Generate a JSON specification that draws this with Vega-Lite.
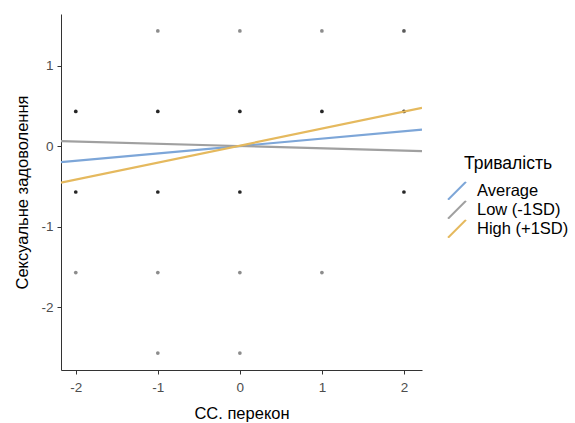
{
  "$schema": "https://vega.github.io/schema/vega-lite/v6.json",
  "width": 361,
  "height": 356,
  "autosize": {"type": "none"},
  "padding": {"left": 61, "top": 14, "right": 153, "bottom": 53},
  "background": "white",
  "config": {
    "font": "Liberation Sans",
    "view": {"stroke": null},
    "axis": {
      "grid": false,
      "domainColor": "#333333",
      "domainWidth": 1,
      "tickColor": "#333333",
      "tickSize": 4,
      "labelColor": "#4D4D4D",
      "labelFontSize": 13.5,
      "titleColor": "#000000",
      "titleFontSize": 16.5,
      "titleFontWeight": "normal"
    }
  },
  "datasets": {
    "points": [
      {"x": -1, "y": 1.43, "n": 1},
      {"x": 0, "y": 1.43, "n": 1},
      {"x": 1, "y": 1.43, "n": 1},
      {"x": 2, "y": 1.43, "n": 2},
      {"x": -2, "y": 0.43, "n": 3},
      {"x": -1, "y": 0.43, "n": 3},
      {"x": 0, "y": 0.43, "n": 3},
      {"x": 1, "y": 0.43, "n": 3},
      {"x": 2, "y": 0.43, "n": 3},
      {"x": -2, "y": -0.57, "n": 3},
      {"x": -1, "y": -0.57, "n": 3},
      {"x": 0, "y": -0.57, "n": 3},
      {"x": 2, "y": -0.57, "n": 3},
      {"x": -2, "y": -1.57, "n": 1},
      {"x": -1, "y": -1.57, "n": 1},
      {"x": 0, "y": -1.57, "n": 1},
      {"x": 1, "y": -1.57, "n": 1},
      {"x": -1, "y": -2.57, "n": 1},
      {"x": 0, "y": -2.57, "n": 1}
    ],
    "lines": [
      {"x": -2.18, "y": -0.2, "group": "Average"},
      {"x": 2.22, "y": 0.205, "group": "Average"},
      {"x": -2.18, "y": 0.062, "group": "Low (-1SD)"},
      {"x": 2.22, "y": -0.062, "group": "Low (-1SD)"},
      {"x": -2.18, "y": -0.455, "group": "High (+1SD)"},
      {"x": 2.22, "y": 0.475, "group": "High (+1SD)"}
    ]
  },
  "layer": [
    {
      "data": {"name": "points"},
      "mark": {"type": "circle", "size": 14, "color": "#000000"},
      "encoding": {
        "x": {"field": "x", "type": "quantitative", "scale": {"domain": [-2.18, 2.22], "nice": false, "zero": false},
              "axis": {"title": "СС. перекон", "values": [-2, -1, 0, 1, 2], "labelExpr": "datum.value + ''", "titlePadding": 12, "labelPadding": 6}},
        "y": {"field": "y", "type": "quantitative", "scale": {"domain": [-2.78, 1.64], "nice": false, "zero": false},
              "axis": {"title": "Сексуальне задоволення", "values": [-2, -1, 0, 1], "labelExpr": "datum.value + ''", "titlePadding": 10, "labelPadding": 4}},
        "opacity": {"field": "n", "type": "quantitative", "scale": {"domain": [1, 3], "range": [0.45, 0.85]}, "legend": null}
      }
    },
    {
      "data": {"name": "lines"},
      "mark": {"type": "line", "strokeWidth": 2.2, "clip": true},
      "encoding": {
        "x": {"field": "x", "type": "quantitative"},
        "y": {"field": "y", "type": "quantitative"},
        "color": {
          "field": "group", "type": "nominal",
          "scale": {"domain": ["Average", "Low (-1SD)", "High (+1SD)"], "range": ["#7DA6D8", "#A0A0A0", "#E5B95E"]},
          "legend": {
            "title": "Тривалість",
            "orient": "none",
            "legendX": 386,
            "legendY": 141,
            "titleFontSize": 17.5,
            "titleFontWeight": "normal",
            "titleColor": "#000000",
            "titleAnchor": "middle",
            "titlePadding": 9,
            "labelFontSize": 16.5,
            "labelColor": "#000000",
            "symbolType": "M-1,1L1,-1",
            "symbolSize": 324,
            "symbolStrokeWidth": 2,
            "clipHeight": 18.5,
            "rowPadding": 0,
            "labelOffset": 10
          }
        }
      }
    }
  ]
}
